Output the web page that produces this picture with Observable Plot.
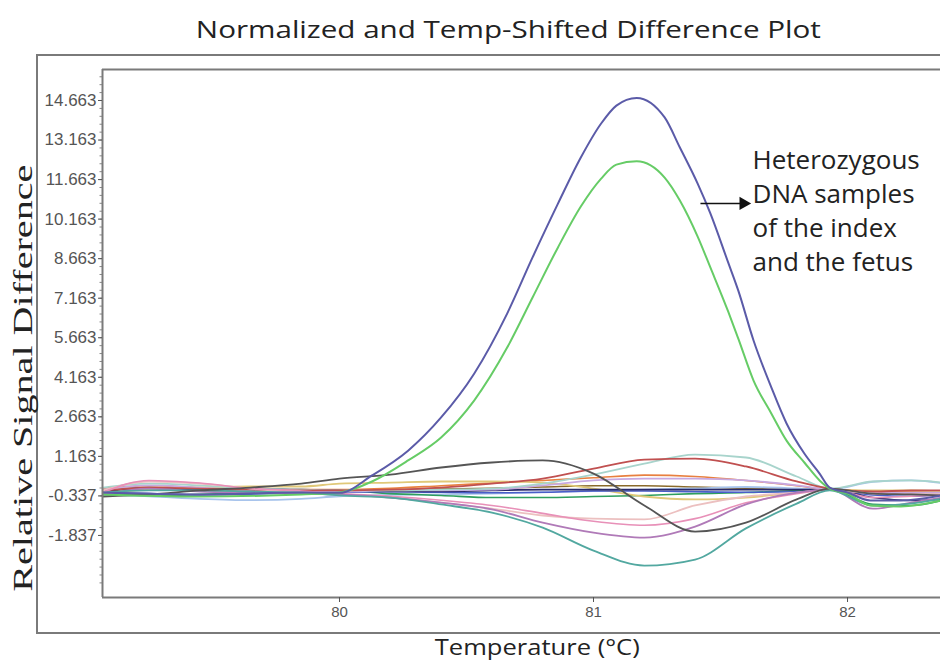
<!DOCTYPE html>
<html><head><meta charset="utf-8">
<script src="https://cdn.jsdelivr.net/npm/d3@7"></script>
<script src="https://cdn.jsdelivr.net/npm/@observablehq/plot@0.6"></script>
<style>
body{margin:0;background:#fff;}
#wrap{position:relative;width:940px;height:665px;overflow:hidden;background:#fff;}
.lbl{position:absolute;white-space:nowrap;left:0;top:0;line-height:1.2;}
#outer{position:absolute;left:36px;top:54px;width:1000px;height:576px;border:2px solid #7a7a7a;}
#wrap svg{position:absolute;left:0;top:0;}
</style>
</head><body><div id="wrap"><div id="outer"></div></div>
<script>
// ---- data ----
const titleText = "Normalized and Temp-Shifted Difference Plot";
const xLabel = "Temperature (°C)";
const yLabel = "Relative Signal Difference";
const xTicks = [80, 81, 82];
const yTicks = [14.663, 13.163, 11.663, 10.163, 8.663, 7.163, 5.663, 4.163, 2.663, 1.163, -0.337, -1.837];
const xDomain = [79.067, 82.366];
const yDomain = [-4.191, 15.839];

const peakTemps = [79.07, 79.45, 79.85, 80.0, 80.13, 80.27, 80.4, 80.53, 80.66, 80.76, 80.86, 80.95, 81.03, 81.09, 81.17, 81.28, 81.34, 81.41, 81.46, 81.53, 81.57, 81.63, 81.7, 81.76, 81.83, 81.89, 81.93, 82.0, 82.09, 82.21, 82.37];
const indexSample = [-0.21, -0.28, -0.21, -0.22, 0.45, 1.38, 2.64, 4.30, 6.58, 8.71, 10.75, 12.50, 13.79, 14.47, 14.76, 14.02, 12.88, 11.51, 10.38, 8.52, 7.45, 5.56, 3.78, 2.41, 1.27, 0.51, -0.02, -0.21, -0.51, -0.51, -0.32];
const fetusSample = [-0.28, -0.36, -0.28, -0.21, 0.22, 1.01, 1.88, 3.28, 5.29, 7.19, 9.09, 10.64, 11.70, 12.23, 12.36, 11.74, 10.87, 9.50, 8.33, 6.66, 5.63, 4.04, 2.79, 1.76, 0.93, 0.25, -0.06, -0.25, -0.70, -0.74, -0.51];

const baseTemps = [79.07, 79.25, 79.45, 79.65, 79.85, 80.0, 80.2, 80.4, 80.6, 80.8, 81.0, 81.2, 81.4, 81.6, 81.8, 81.93, 82.1, 82.25, 82.37];
const olive     = [-0.15, -0.10, -0.12, -0.15, -0.15, -0.12, -0.10, -0.08, -0.05, 0.00, 0.05, 0.05, 0.00, -0.05, -0.10, -0.10, -0.20, -0.22, -0.20];
const lightBlue = [-0.30, -0.35, -0.45, -0.50, -0.45, -0.35, -0.30, -0.28, -0.25, -0.20, -0.15, -0.10, -0.05, 0.00, -0.05, -0.10, 0.20, 0.25, 0.15];
const orange    = [-0.05, 0.05, -0.02, -0.08, -0.10, -0.10, -0.05, 0.05, 0.15, 0.25, 0.35, 0.45, 0.40, 0.25, 0.05, -0.10, -0.15, -0.18, -0.20];
const greenFlat = [-0.25, -0.32, -0.28, -0.21, -0.17, -0.13, -0.25, -0.32, -0.40, -0.40, -0.36, -0.32, -0.25, -0.21, -0.13, -0.10, -0.66, -0.70, -0.51];
const tan       = [-0.21, -0.10, -0.02, 0.02, 0.02, 0.13, 0.17, 0.21, 0.21, 0.17, -0.06, -0.36, -0.47, -0.40, -0.21, -0.10, -0.13, -0.13, -0.17];
const blueFlat  = [-0.22, -0.25, -0.30, -0.27, -0.22, -0.20, -0.18, -0.20, -0.22, -0.20, -0.15, -0.15, -0.18, -0.20, -0.18, -0.10, -0.30, -0.35, -0.30];
const navy      = [-0.17, -0.02, -0.10, -0.06, -0.10, -0.13, -0.17, -0.17, -0.13, -0.10, -0.10, -0.10, -0.10, -0.10, -0.10, -0.10, -0.40, -0.51, -0.47];
const lavender  = [-0.10, 0.06, -0.02, -0.13, -0.17, -0.17, -0.13, -0.13, -0.10, 0.06, 0.25, 0.32, 0.32, 0.25, 0.06, -0.10, -0.21, -0.21, -0.21];
const paleTeal  = [-0.02, 0.13, 0.06, -0.06, -0.10, -0.13, -0.13, -0.10, -0.06, 0.13, 0.47, 0.89, 1.23, 1.12, 0.40, -0.06, 0.21, 0.25, 0.17];
const redBrown  = [-0.13, -0.02, -0.06, -0.10, -0.13, -0.13, -0.10, -0.02, 0.13, 0.32, 0.70, 1.04, 1.08, 0.78, 0.21, -0.06, -0.17, -0.13, -0.13];
const lightPink = [-0.13, 0.21, 0.13, -0.06, -0.21, -0.28, -0.40, -0.59, -0.82, -1.08, -1.20, -1.23, -0.70, -0.36, -0.21, -0.10, -0.25, -0.28, -0.28];
const pink      = [-0.20, 0.25, 0.15, -0.05, -0.15, -0.25, -0.35, -0.50, -0.70, -1.00, -1.30, -1.45, -1.20, -0.60, -0.25, -0.10, -0.40, -0.35, -0.30];
const mauve     = [-0.28, -0.06, -0.17, -0.21, -0.25, -0.28, -0.40, -0.59, -0.85, -1.35, -1.73, -1.92, -1.50, -0.66, -0.21, -0.10, -0.82, -0.59, -0.40];
const teal      = [-0.21, -0.13, -0.13, -0.17, -0.21, -0.32, -0.40, -0.66, -0.97, -1.54, -2.41, -2.98, -2.75, -1.57, -0.63, -0.13, -0.70, -0.63, -0.44];
const darkGray  = [-0.36, -0.28, -0.13, -0.02, 0.13, 0.32, 0.47, 0.74, 0.93, 1.01, 0.51, -0.70, -1.69, -1.35, -0.47, -0.06, -0.25, -0.28, -0.32];

const annLines = ["Heterozygous", "DNA samples", "of the index", "and the fetus"];
const annY = [12.39, 11.10, 9.81, 8.52];
const annX = 81.626;
const arrowFrom = {t: 81.421, v: 10.76};
const arrowTo = {t: 81.59, v: 10.76};
const minorStep = 0.3;

// ---- series table ----
const series = [
  {name: "olive", temps: baseTemps, vals: olive, color: "#8a6a2a", w: 1.6},
  {name: "lightBlue", temps: baseTemps, vals: lightBlue, color: "#a8c4ec", w: 1.8},
  {name: "orange", temps: baseTemps, vals: orange, color: "#e88040", w: 1.6},
  {name: "greenFlat", temps: baseTemps, vals: greenFlat, color: "#2e9e5e", w: 1.6},
  {name: "tan", temps: baseTemps, vals: tan, color: "#e0c878", w: 1.8},
  {name: "blueFlat", temps: baseTemps, vals: blueFlat, color: "#4a5ec8", w: 1.6},
  {name: "navy", temps: baseTemps, vals: navy, color: "#2a2a6a", w: 1.6},
  {name: "lavender", temps: baseTemps, vals: lavender, color: "#c8a8e0", w: 1.8},
  {name: "paleTeal", temps: baseTemps, vals: paleTeal, color: "#a8d4cc", w: 1.8},
  {name: "redBrown", temps: baseTemps, vals: redBrown, color: "#c05050", w: 1.8},
  {name: "lightPink", temps: baseTemps, vals: lightPink, color: "#ecc0c0", w: 1.8},
  {name: "pink", temps: baseTemps, vals: pink, color: "#e890b8", w: 1.6},
  {name: "mauve", temps: baseTemps, vals: mauve, color: "#b07ab8", w: 1.8},
  {name: "teal", temps: baseTemps, vals: teal, color: "#52a8a0", w: 1.8},
  {name: "darkGray", temps: baseTemps, vals: darkGray, color: "#555555", w: 1.8},
  {name: "fetus", temps: peakTemps, vals: fetusSample, color: "#66cc66", w: 2},
  {name: "index", temps: peakTemps, vals: indexSample, color: "#5b5ba8", w: 2}
];

const lineMarks = series.map(s => Plot.line(s.temps.map((t, i) => ({t, v: s.vals[i]})), {
  x: "t", y: "v", stroke: s.color, strokeWidth: s.w, curve: "monotone-x"
}));

const annRows = annLines.map((s, i) => ({s, t: annX, v: annY[i]}));
const arrowRow = [{x1: arrowFrom.t, y1: arrowFrom.v, x2: arrowTo.t, y2: arrowTo.v}];
const minorTicks = d3.range(yTicks[yTicks.length - 1] - 6 * minorStep, yDomain[1], minorStep);

const chart = Plot.plot({
  width: 940, height: 665,
  marginLeft: 102, marginRight: 0, marginTop: 69, marginBottom: 68,
  style: {background: "transparent", fontFamily: "'Liberation Sans', Arial, sans-serif", fontSize: "16px", color: "#555", overflow: "visible"},
  x: {domain: xDomain},
  y: {domain: yDomain},
  marks: [
    ...lineMarks,
    Plot.axisY({ticks: minorTicks, tickSize: 2.5, text: null, color: "#888", label: null}),
    Plot.ruleX([xDomain[0]], {stroke: "#7a7a7a", strokeWidth: 2}),
    Plot.ruleY([yDomain[1]], {stroke: "#7a7a7a", strokeWidth: 2}),
    Plot.ruleY([yDomain[0]], {stroke: "#7a7a7a", strokeWidth: 2}),
    Plot.axisY({ticks: yTicks, tickFormat: d => d.toFixed(3), tickSize: 4, tickPadding: 2, fontSize: 17, color: "#555", label: null}),
    Plot.axisX({ticks: xTicks, tickFormat: d => String(d), tickSize: 5, tickPadding: 4, fontSize: 15, color: "#555", label: null}),
    Plot.text(annRows, {x: "t", y: "v", text: "s", textAnchor: "start", lineAnchor: "middle", fontFamily: "'Open Sans', sans-serif", fontSize: 26, fill: "#222"}),
    Plot.link(arrowRow, {x1: "x1", y1: "y1", x2: "x2", y2: "y2", stroke: "#111", strokeWidth: 1.5}),
    Plot.dot(arrowRow, {x: "x2", y: "y2", symbol: "triangle", r: 5, fill: "#111", stroke: "none", rotate: 90})
  ]
});
const wrap = document.getElementById("wrap");
wrap.appendChild(chart);

function place(text, cx, cy, targetW, rot, font) {
  const el = document.createElement("div");
  el.className = "lbl";
  el.textContent = text;
  el.style.font = font;
  el.style.lineHeight = "1.2";
  el.style.color = "#222";
  wrap.appendChild(el);
  const r = el.getBoundingClientRect();
  const s = targetW / r.width;
  el.style.left = (cx - r.width / 2) + "px";
  el.style.top = (cy - r.height / 2) + "px";
  el.style.transformOrigin = "50% 50%";
  el.style.transform = `rotate(${rot}deg) scaleX(${s})`;
}
place(titleText, 508, 29, 625, 0, "24px 'Open Sans', sans-serif");
place(xLabel, 537, 648, 205, 0, "21px 'Open Sans', sans-serif");
place(yLabel, 23, 378, 427, -90, "27px 'Liberation Serif', 'Times New Roman', serif");
</script></body></html>
